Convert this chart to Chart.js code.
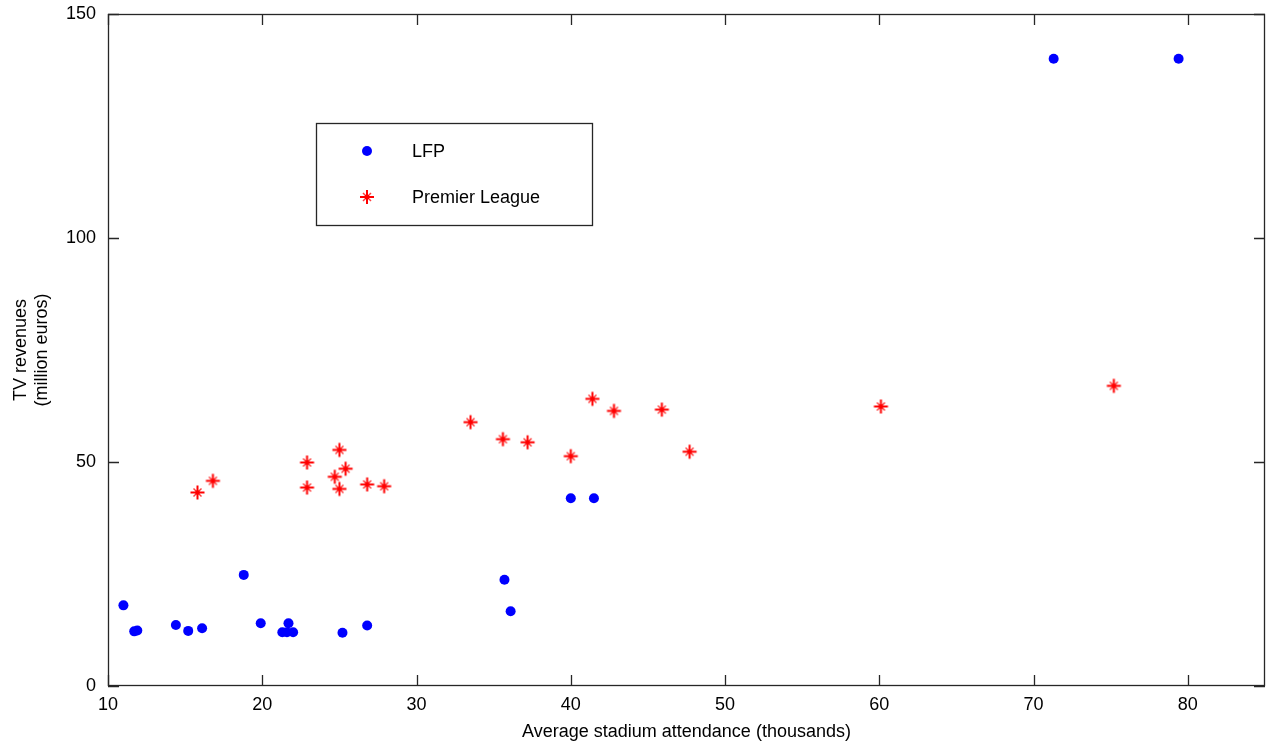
<!DOCTYPE html>
<html>
<head>
<meta charset="utf-8">
<script src="https://cdn.jsdelivr.net/npm/chart.js@4/dist/chart.umd.min.js"></script>
<style>
html,body{margin:0;padding:0;background:#fff;}
#wrap{width:1268px;height:744px;}
</style>
</head>
<body>
<div id="wrap"><canvas id="c" width="1268" height="744"></canvas></div>
<script>
const lfpX = [11.0, 11.7, 11.9, 14.4, 15.2, 16.1, 18.8, 19.9, 21.3, 21.6, 21.7, 22.0, 25.2, 26.8, 35.7, 36.1, 40.0, 41.5, 71.3, 79.4];
const lfpY = [18.0, 12.2, 12.4, 13.6, 12.3, 12.9, 24.8, 14.0, 12.0, 12.0, 14.0, 12.0, 11.9, 13.5, 23.7, 16.7, 41.9, 41.9, 140, 140];
const plX = [15.8, 16.8, 22.9, 22.9, 25.0, 25.4, 24.7, 25.0, 26.8, 27.9, 33.5, 35.6, 37.2, 40.0, 41.4, 42.8, 45.9, 47.7, 60.1, 75.2];
const plY = [43.2, 45.8, 49.9, 44.3, 52.7, 48.5, 46.7, 44.0, 45.0, 44.6, 58.9, 55.1, 54.4, 51.3, 64.1, 61.4, 61.7, 52.3, 62.4, 67.0];
const xTicks = [10, 20, 30, 40, 50, 60, 70, 80];
const yTicks = [0, 50, 100, 150];
const seriesNames = ['LFP', 'Premier League'];
const xTitle = 'Average stadium attendance (thousands)';
const yTitle = ['TV revenues', '(million euros)'];

const FONT = 'Liberation Sans, Arial, sans-serif';
const AX = '#262626';

function pts(xs, ys){ return xs.map((x,i)=>({x:x, y:ys[i]})); }

function drawAsterisk(ctx, x, y, color){
  ctx.save();
  ctx.strokeStyle = color; ctx.lineWidth = 2;
  const r = 7, d = 4;
  ctx.beginPath();
  ctx.moveTo(x-r,y); ctx.lineTo(x+r,y);
  ctx.moveTo(x,y-r); ctx.lineTo(x,y+r);
  ctx.stroke();
  ctx.globalAlpha = 0.75;
  ctx.lineWidth = 1.5;
  ctx.beginPath();
  ctx.moveTo(x-d,y-d); ctx.lineTo(x+d,y+d);
  ctx.moveTo(x-d,y+d); ctx.lineTo(x+d,y-d);
  ctx.stroke();
  ctx.globalAlpha = 1;
  ctx.fillStyle = color;
  ctx.fillRect(x-2, y-2, 4, 4);
  ctx.restore();
}
function makeAsterisk(color){
  const c = document.createElement('canvas');
  c.width = 17; c.height = 17;
  drawAsterisk(c.getContext('2d'), 8.5, 8.5, color);
  return c;
}
function drawMarker(ctx, style, x, y, color){
  if(style === 'circle'){
    ctx.save();
    ctx.fillStyle = color;
    ctx.beginPath(); ctx.arc(x, y, 5, 0, Math.PI*2); ctx.fill();
    ctx.restore();
  } else {
    drawAsterisk(ctx, x, y, color);
  }
}

const boxPlugin = {
  id: 'boxTicks',
  afterDraw(chart){
    const ctx = chart.ctx, a = chart.chartArea;
    const xs = chart.scales.x, ys = chart.scales.y;
    const L = 11;
    ctx.save();
    ctx.strokeStyle = AX; ctx.lineWidth = 1.3;
    ctx.strokeRect(a.left+0.5, a.top+0.5, a.right-a.left-1, a.bottom-a.top-1);
    ctx.beginPath();
    xs.ticks.forEach(t=>{
      const px = Math.round(xs.getPixelForValue(t.value))+0.5;
      ctx.moveTo(px, a.bottom); ctx.lineTo(px, a.bottom-L);
      ctx.moveTo(px, a.top); ctx.lineTo(px, a.top+L);
    });
    ys.ticks.forEach(t=>{
      const py = Math.round(ys.getPixelForValue(t.value))+0.5;
      ctx.moveTo(a.left, py); ctx.lineTo(a.left+L, py);
      ctx.moveTo(a.right, py); ctx.lineTo(a.right-L, py);
    });
    ctx.stroke();
    // legend box
    const bx = 316, by = 123, bw = 276, bh = 102;
    ctx.fillStyle = '#fff';
    ctx.fillRect(bx, by, bw, bh);
    ctx.lineWidth = 1.3;
    ctx.strokeRect(bx+0.5, by+0.5, bw, bh);
    ctx.font = '18px ' + FONT;
    ctx.fillStyle = '#000';
    ctx.textBaseline = 'middle';
    chart.data.datasets.forEach((ds, i)=>{
      const yy = by + 28 + i*46;
      drawMarker(ctx, ds.markerKind, bx + 51, yy, ds.borderColor);
      ctx.fillText(ds.label, bx + 96, yy + 1);
    });
    ctx.restore();
  }
};

new Chart(document.getElementById('c'), {
  type: 'scatter',
  data: {
    datasets: [
      { label: seriesNames[0], markerKind: 'circle', data: pts(lfpX, lfpY), pointStyle: 'circle', pointRadius: 5, pointHoverRadius: 5,
        backgroundColor: '#0000ff', borderColor: '#0000ff', borderWidth: 0 },
      { label: seriesNames[1], markerKind: 'asterisk', data: pts(plX, plY), pointStyle: makeAsterisk('#ff0000'), pointRadius: 8, pointHoverRadius: 8,
        backgroundColor: '#ff0000', borderColor: '#ff0000', borderWidth: 0 }
    ]
  },
  options: {
    responsive: false,
    animation: false,
    events: [],
    layout: { autoPadding: false, padding: { left: 0, top: 14, right: 3, bottom: 0 } },
    plugins: { legend: { display: false }, tooltip: { enabled: false } },
    scales: {
      x: {
        type: 'linear', min: 10, max: 85,
        afterBuildTicks(s){ s.ticks = xTicks.map(v=>({value:v})); },
        afterFit(s){ s.height = 58; s.paddingLeft = 0; s.paddingRight = 0; },
        grid: { display: false, drawTicks: false },
        border: { display: false },
        ticks: { color: '#000', font: { family: FONT, size: 18 }, padding: 8, maxRotation: 0, autoSkip: false },
        title: { display: true, text: xTitle, color: '#000', font: { family: FONT, size: 18 }, padding: { top: 0, bottom: 1 } }
      },
      y: {
        type: 'linear', min: 0, max: 150,
        afterBuildTicks(s){ s.ticks = yTicks.map(v=>({value:v})); },
        afterFit(s){ s.width = 108; s.paddingTop = 0; s.paddingBottom = 0; },
        grid: { display: false, drawTicks: false },
        border: { display: false },
        ticks: { color: '#000', font: { family: FONT, size: 18 }, padding: 12, autoSkip: false },
        title: { display: true, text: yTitle, color: '#000', font: { family: FONT, size: 18 }, padding: { top: 10, bottom: 0 } }
      }
    }
  },
  plugins: [boxPlugin]
});
</script>
</body>
</html>
